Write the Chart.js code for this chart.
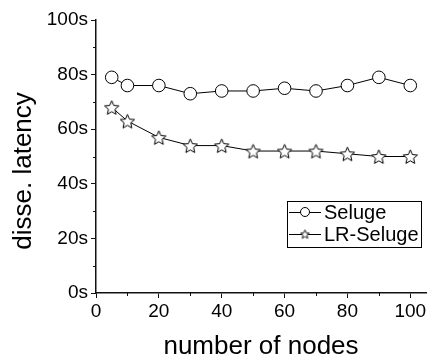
<!DOCTYPE html>
<html>
<head>
<meta charset="utf-8">
<script src="https://cdn.jsdelivr.net/npm/chart.js@4.4.1/dist/chart.umd.min.js"></script>
<style>
  html, body { margin: 0; padding: 0; background: #fff; }
</style>
</head>
<body>
<canvas id="latencyChart" width="434" height="364"></canvas>
<script>
const nodes = [5, 10, 20, 30, 40, 50, 60, 70, 80, 90, 100];
const seluge = [79, 76, 76, 73, 74, 74, 75, 74, 76, 79, 76];
const lrSeluge = [68, 63, 57, 54, 54, 52, 52, 52, 51, 50, 50];
const xTicks = [0, 20, 40, 60, 80, 100];
const yTicks = [0, 20, 40, 60, 80, 100];
const xMinor = [10, 30, 50, 70, 90];
const yMinor = [10, 30, 50, 70, 90];

const FONT = "'Liberation Sans', Arial, Helvetica, sans-serif";
Chart.defaults.font.family = FONT;
Chart.defaults.color = '#000';

// open five-pointed star used as a point marker
function starCanvas(size, lw) {
  const c = document.createElement('canvas');
  c.width = c.height = size;
  const g = c.getContext('2d');
  const cx = size / 2, cy = size / 2 + size * 0.05;
  const R = size / 2 - lw, r = R * 0.46;
  g.beginPath();
  for (let i = 0; i < 10; i++) {
    const a = -Math.PI / 2 + i * Math.PI / 5;
    const rad = i % 2 ? r : R;
    g.lineTo(cx + rad * Math.cos(a), cy + rad * Math.sin(a));
  }
  g.closePath();
  g.fillStyle = '#fff';
  g.fill();
  g.lineWidth = lw;
  g.strokeStyle = '#000';
  g.stroke();
  return c;
}
const bigStar = starCanvas(17, 1);
const smallStar = starCanvas(11, 0.9);

// short minor ticks between the labelled ones
const minorTicks = {
  id: 'minorTicks',
  afterDraw(chart) {
    const { ctx, scales: { x, y }, chartArea } = chart;
    ctx.save();
    ctx.strokeStyle = '#111';
    ctx.lineWidth = 1;
    ctx.beginPath();
    xMinor.forEach(v => {
      const px = Math.round(x.getPixelForValue(v)) + 0.5;
      ctx.moveTo(px, chartArea.bottom);
      ctx.lineTo(px, chartArea.bottom + 3);
    });
    yMinor.forEach(v => {
      const py = Math.round(y.getPixelForValue(v)) + 0.5;
      ctx.moveTo(chartArea.left, py);
      ctx.lineTo(chartArea.left - 3, py);
    });
    ctx.stroke();
    ctx.restore();
  }
};

// boxed legend with a line running through each marker
const boxLegend = {
  id: 'boxLegend',
  afterDraw(chart) {
    const { ctx, chartArea } = chart;
    const right = chartArea.right - 5, top = 201;
    const w = 134, h = 46;
    const left = right - w;
    ctx.save();
    ctx.fillStyle = '#fff';
    ctx.fillRect(left, top, w, h);
    ctx.strokeStyle = '#000';
    ctx.lineWidth = 1;
    ctx.strokeRect(left + 0.5, top + 0.5, w, h);
    ctx.font = '20px ' + FONT;
    ctx.textBaseline = 'middle';
    ctx.fillStyle = '#000';
    chart.data.datasets.forEach((ds, i) => {
      const cy = top + 11 + i * 22;
      const mx = left + 18;
      ctx.beginPath();
      ctx.moveTo(left + 2, cy + 0.5);
      ctx.lineTo(left + 34, cy + 0.5);
      ctx.stroke();
      if (ds.pointStyle === 'circle') {
        ctx.beginPath();
        ctx.arc(mx, cy, 4.5, 0, Math.PI * 2);
        ctx.fillStyle = '#fff';
        ctx.fill();
        ctx.stroke();
      } else {
        ctx.drawImage(smallStar, mx - 5.5, cy - 5.5);
      }
      ctx.fillStyle = '#000';
      ctx.fillText(ds.label, left + 37, cy + 1);
    });
    ctx.restore();
  }
};

new Chart(document.getElementById('latencyChart'), {
  type: 'line',
  data: {
    datasets: [
      {
        label: 'Seluge',
        data: nodes.map((n, i) => ({ x: n, y: seluge[i] })),
        borderColor: '#000',
        borderWidth: 1,
        pointStyle: 'circle',
        pointRadius: 6.3,
        pointBackgroundColor: '#fff',
        pointBorderColor: '#000',
        pointBorderWidth: 1,
        tension: 0,
        clip: false
      },
      {
        label: 'LR-Seluge',
        data: nodes.map((n, i) => ({ x: n, y: lrSeluge[i] })),
        borderColor: '#000',
        borderWidth: 1,
        pointStyle: bigStar,
        pointRadius: 7,
        tension: 0,
        clip: false
      }
    ]
  },
  options: {
    responsive: false,
    animation: false,
    layout: { padding: { top: 20, right: 2, left: 0, bottom: 0 } },
    plugins: {
      legend: { display: false },
      tooltip: { enabled: false }
    },
    scales: {
      x: {
        type: 'linear',
        min: 0,
        max: 105,
        afterBuildTicks: s => { s.ticks = xTicks.map(v => ({ value: v })); },
        afterFit: s => { s.height = 71; },
        border: { display: true, color: '#111', width: 1.5 },
        grid: { drawOnChartArea: false, drawTicks: true, tickLength: 5, tickColor: '#111', tickWidth: 1 },
        ticks: { font: { size: 19 }, padding: 2, maxRotation: 0 },
        title: {
          display: true,
          text: 'number of nodes',
          font: { size: 26 },
          padding: { top: 0, bottom: 2 }
        }
      },
      y: {
        min: 0,
        max: 100,
        afterBuildTicks: s => { s.ticks = yTicks.map(v => ({ value: v })); },
        afterFit: s => { s.width = 96; },
        border: { display: true, color: '#111', width: 1.5 },
        grid: { drawOnChartArea: false, drawTicks: true, tickLength: 5, tickColor: '#111', tickWidth: 1 },
        ticks: { font: { size: 19 }, padding: 3, callback: v => v + 's' },
        title: {
          display: true,
          text: 'disse. latency    ',
          font: { size: 26 },
          padding: { top: 8, bottom: 0 }
        }
      }
    }
  },
  plugins: [minorTicks, boxLegend]
});
</script>
</body>
</html>
